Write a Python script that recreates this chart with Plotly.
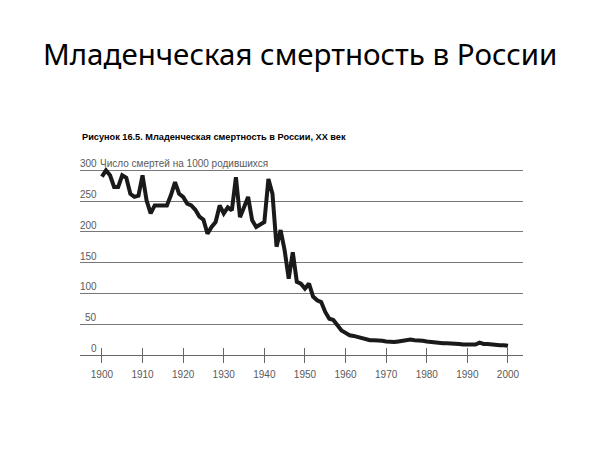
import plotly.graph_objects as go

years = list(range(1900, 2001))
imr = [
    290, 300, 292, 273, 273, 292, 288, 262, 257, 259,
    292, 251, 230, 243, 243, 243, 243, 260, 281, 262,
    257, 246, 243, 236, 225, 220, 197, 208, 216, 243,
    230, 240, 235, 289, 224, 240, 257, 219, 208, 212,
    216, 286, 262, 176, 203, 170, 124, 167, 119, 116,
    108, 116, 95, 89, 86, 70, 59, 57, 48, 40,
    36, 32, 31, 29, 27, 26, 24, 24, 24, 23,
    22, 21, 21, 22, 23, 24, 25, 24, 24, 23,
    22, 21, 20, 20, 19, 19, 19, 18, 18, 17,
    17, 17, 17, 20, 18, 18, 17, 17, 16, 16,
    15,
]
x_ticks = [1900, 1910, 1920, 1930, 1940, 1950, 1960, 1970, 1980, 1990, 2000]
y_ticks = [0, 50, 100, 150, 200, 250, 300]
y_unit_label = "Число смертей на 1000 родившихся"

slide_title = "Младенческая смертность в России"
fig_caption = "Рисунок 16.5. Младенческая смертность в России, XX век"

fig = go.Figure()
fig.add_trace(go.Scatter(
    x=years, y=imr, mode="lines",
    line=dict(color="#1a1a1a", width=4, shape="linear"),
    hoverinfo="skip", showlegend=False,
))
# invisible trace for the second x axis (upper half of crossing ticks)
fig.add_trace(go.Scatter(
    x=[years[0], years[-1]], y=[imr[0], imr[-1]], xaxis="x2",
    mode="lines", line=dict(width=0), opacity=0,
    hoverinfo="skip", showlegend=False,
))

axis_font = dict(family="Liberation Sans, Arial, sans-serif", size=10, color="#5a5a5a")

TOP = 155
annotations = [
    dict(text=slide_title, xref="paper", yref="paper",
         x=0.5, y=1, xanchor="center", yanchor="middle",
         xshift=-(80 - 77) / 2, yshift=TOP - 53,
         showarrow=False,
         font=dict(family="Noto Sans, sans-serif", size=29.5, color="black")),
    dict(text="<b>" + fig_caption + "</b>", xref="paper", yref="paper",
         x=0, y=1, xanchor="left", yanchor="middle",
         yshift=TOP - 137, showarrow=False,
         font=dict(family="Liberation Sans, Arial, sans-serif", size=9.2, color="black")),
]
for v in y_ticks:
    annotations.append(dict(
        text=str(v), xref="paper", yref="y", x=0, y=v,
        xanchor="right", yanchor="bottom", xshift=18, yshift=0,
        showarrow=False, font=axis_font, borderpad=0,
    ))
annotations.append(dict(
    text=y_unit_label, xref="paper", yref="y", x=0, y=y_ticks[-1],
    xanchor="left", yanchor="bottom", xshift=19, yshift=0,
    showarrow=False, font=axis_font, borderpad=0,
))

fig.update_layout(
    width=600, height=450,
    margin=dict(l=80, r=77, t=TOP, b=95),
    paper_bgcolor="white", plot_bgcolor="white",
    xaxis=dict(
        range=[1894.6, 2003.7],
        tickvals=x_ticks, ticktext=[str(v) for v in x_ticks],
        ticks="outside", ticklen=7, tickwidth=1, tickcolor="#666666",
        ticklabelstandoff=3,
        showgrid=False, zeroline=False,
        showline=True, linecolor="#666666", linewidth=1,
        tickfont=axis_font,
    ),
    xaxis2=dict(
        range=[1894.6, 2003.7], overlaying="x", anchor="y",
        tickvals=x_ticks, ticks="inside", ticklen=7, tickwidth=1,
        tickcolor="#666666", showticklabels=False, showgrid=False,
        zeroline=False, showline=False,
    ),
    yaxis=dict(
        range=[0, 325],
        tickvals=y_ticks, showticklabels=False,
        ticks="", showgrid=True, gridcolor="#777777", gridwidth=1,
        zeroline=False, showline=False,
    ),
    annotations=annotations,
)

fig.write_html("out.html", config={"displayModeBar": False},
               post_script="document.body.style.margin='0';")
